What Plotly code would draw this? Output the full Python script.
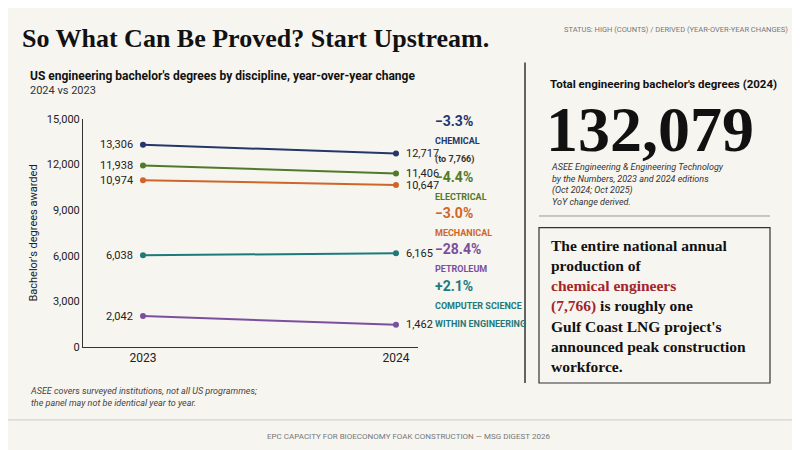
import plotly.graph_objects as go

years = ["2023", "2024"]
disciplines = ["Chemical", "Electrical", "Mechanical", "Computer science", "Petroleum"]
degrees_2023 = [13306, 11938, 10974, 6038, 2042]
degrees_2024 = [12717, 11406, 10647, 6165, 1462]
colors = ["#23376b", "#4f7a2a", "#d0652a", "#1d7a7a", "#7b4f9e"]

changes = ["\u22123.3%", "\u22124.4%", "\u22123.0%", "\u221228.4%", "+2.1%"]
change_labels = ["CHEMICAL<br><span style='color:#333'>(to 7,766)</span>", "ELECTRICAL", "MECHANICAL", "PETROLEUM",
                 "COMPUTER SCIENCE<br>WITHIN ENGINEERING"]
change_colors = ["#23376b", "#4f7a2a", "#d0652a", "#7b4f9e", "#1d7a7a"]
change_top = [100, 158, 195, 232, 270]

BG = "#f7f5f0"
SANS = "Roboto"
SERIF = "Liberation Serif"

fig = go.Figure()
for i, name in enumerate(disciplines):
    fig.add_trace(go.Scatter(
        x=[0, 1], y=[degrees_2023[i], degrees_2024[i]], mode="lines+markers",
        line=dict(color=colors[i], width=2), marker=dict(size=6, color=colors[i]),
        name=name, showlegend=False, hoverinfo="skip"))
    fig.add_annotation(x=0, y=degrees_2023[i], text=f"{degrees_2023[i]:,}", showarrow=False,
                       xanchor="right", xshift=-8, font=dict(size=11, color="#222", family=SANS))
    fig.add_annotation(x=1, y=degrees_2024[i], text=f"{degrees_2024[i]:,}", showarrow=False,
                       xanchor="left", xshift=8, font=dict(size=11, color="#222", family=SANS))

fig.update_xaxes(domain=[75 / 800, 410 / 800], range=[-0.237, 1.087], tickvals=[0, 1],
                 ticktext=years, showgrid=False, zeroline=False, showline=True,
                 linecolor="#333", linewidth=1, ticks="", tickfont=dict(size=12, color="#222", family=SANS))
fig.update_yaxes(domain=[107 / 450, 342 / 450], range=[0, 15000], tickvals=[0, 3000, 6000, 9000, 12000, 15000],
                 tickformat=",", showgrid=False, zeroline=False, showline=True, linecolor="#333",
                 linewidth=1, ticks="", tickfont=dict(size=11, color="#222", family=SANS),
                 title=dict(text="Bachelor's degrees awarded", font=dict(size=11, color="#222", family=SANS),
                            standoff=6))

# change callouts next to the chart
for i in range(5):
    fig.add_annotation(x=425 / 800, y=1 - change_top[i] / 450, xref="paper", yref="paper",
                       text=f"<b>{changes[i]}</b><br><span style='font-size:9px'><b>{change_labels[i]}</b></span>",
                       showarrow=False, xanchor="left", yanchor="top", align="left",
                       font=dict(size=14, color=change_colors[i], family=SANS))

shapes = [
    dict(type="line", xref="paper", yref="paper", x0=517 / 800, x1=517 / 800, y0=1 - 50 / 450, y1=1 - 380 / 450,
         line=dict(color="#333", width=1.5)),
    dict(type="line", xref="paper", yref="paper", x0=531 / 800, x1=762 / 800, y0=1 - 208 / 450, y1=1 - 208 / 450,
         line=dict(color="#999", width=1)),
    dict(type="rect", xref="paper", yref="paper", x0=531 / 800, x1=762 / 800, y0=1 - 380 / 450, y1=1 - 220 / 450,
         line=dict(color="#333", width=1.2)),
    dict(type="line", xref="paper", yref="paper", x0=0, x1=1, y0=1 - 418 / 450, y1=1 - 418 / 450,
         line=dict(color="#ccc", width=1)),
]

def note(x, y, text, size, color="#111", family=SANS, xanchor="left", align="left"):
    fig.add_annotation(x=x / 800, y=1 - y / 450, xref="paper", yref="paper", text=text, showarrow=False,
                       xanchor=xanchor, yanchor="top", align=align, font=dict(size=size, color=color, family=family))

note(12, 8, "<b>So What Can Be Proved? Start Upstream.</b>", 26, family=SERIF)
note(782, 9, "STATUS: HIGH (COUNTS) / DERIVED (YEAR-OVER-YEAR CHANGES)", 7.5, color="#777", xanchor="right")
note(20, 55, "<b>US engineering bachelor's degrees by discipline, year-over-year change</b>", 12)
note(20, 70, "2024 vs 2023", 11, color="#333")
note(20, 381, "<i>ASEE covers surveyed institutions, not all US programmes;<br>the panel may not be identical year to year.</i>",
     9, color="#444")
note(540, 63, "<b>Total engineering bachelor's degrees (2024)</b>", 11.5)
note(536, 80, "<b>132,079</b>", 64, family=SERIF)
note(541, 150, "<i>ASEE Engineering & Engineering Technology<br>by the Numbers, 2023 and 2024 editions<br>"
     "(Oct 2024; Oct 2025)<br>YoY change derived.</i>", 9, color="#333")
note(541, 228, "<b>The entire national annual<br>production of<br><span style='color:#a3252b'>chemical engineers<br>"
     "(7,766)</span> is roughly one<br>Gulf Coast LNG project's<br>announced peak construction<br>workforce.</b>",
     15.5, family=SERIF)
note(400, 428, "EPC CAPACITY FOR BIOECONOMY FOAK CONSTRUCTION \u2014 MSG DIGEST 2026", 8, color="#777", xanchor="center")

fig.update_layout(width=800, height=450, margin=dict(l=0, r=0, t=0, b=0), paper_bgcolor=BG,
                  plot_bgcolor=BG, shapes=shapes)
fig.write_html("out.html")
